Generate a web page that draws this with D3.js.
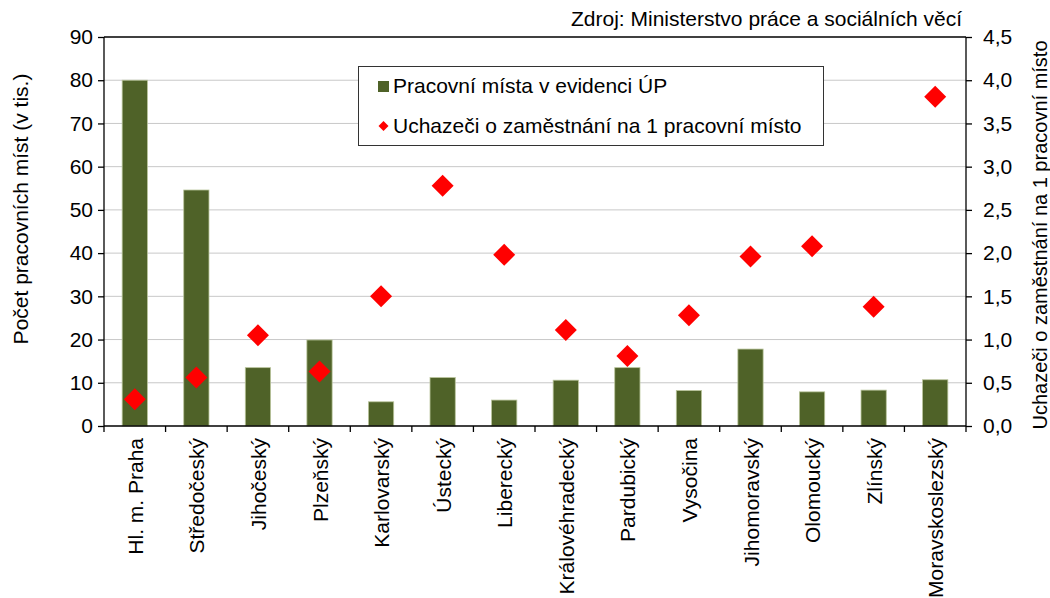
<!DOCTYPE html>
<html>
<head>
<meta charset="utf-8">
<script src="https://cdn.jsdelivr.net/npm/d3@7"></script>
<style>
  body { margin: 0; background: #fff; }
  text { font-family: "Liberation Sans", Arial, sans-serif; fill: #000; }
</style>
</head>
<body>
<svg id="chart" width="1050" height="598"></svg>
<script>
// kraje
const regions = ["Hl. m. Praha", "Středočeský", "Jihočeský", "Plzeňský", "Karlovarský", "Ústecký",
  "Liberecký", "Královéhradecký", "Pardubický", "Vysočina", "Jihomoravský", "Olomoucký", "Zlínský", "Moravskoslezský"];
// pracovni mista v evidenci UP (tis.)
const jobs = [80.0, 54.6, 13.5, 19.9, 5.6, 11.2, 6.0, 10.6, 13.5, 8.2, 17.8, 7.9, 8.3, 10.7];
// uchazeci na 1 pracovni misto
const ratio = [0.31, 0.56, 1.05, 0.63, 1.50, 2.78, 1.98, 1.11, 0.81, 1.28, 1.96, 2.08, 1.38, 3.81];

const leftTicks = d3.range(0, 91, 10);
const rightTicks = d3.range(0, 4.51, 0.5);

const svg = d3.select("#chart");
const m = { left: 104, right: 966, top: 37, bottom: 426 };
const fs = "21px";

const x = d3.scaleBand().domain(regions).range([m.left, m.right]).paddingInner(0).paddingOuter(0);
const yL = d3.scaleLinear().domain([0, 90]).range([m.bottom, m.top]);
const yR = d3.scaleLinear().domain([0, 4.5]).range([m.bottom, m.top]);

//gridlines
svg.append("g")
  .selectAll("line")
  .data(leftTicks.filter(d => d > 0 && d < 90))
  .enter().append("line")
  .attr("x1", m.left).attr("x2", m.right)
  .attr("y1", d => yL(d)).attr("y2", d => yL(d))
  .attr("stroke", "#c8c8c8").attr("stroke-width", 1);

// top border of plot
svg.append("line")
  .attr("x1", m.left).attr("x2", m.right)
  .attr("y1", m.top).attr("y2", m.top)
  .attr("stroke", "#000").attr("stroke-width", 1.3);

//bars
const barW = x.bandwidth() * 0.41;
svg.append("g")
  .selectAll("rect")
  .data(jobs)
  .enter().append("rect")
  .attr("x", (d, i) => x(regions[i]) + x.bandwidth() / 2 - barW / 2)
  .attr("y", d => yL(d))
  .attr("width", barW)
  .attr("height", d => yL(0) - yL(d))
  .attr("fill", "#4f6228")
  .attr("stroke", "#b8c49a")
  .attr("stroke-width", 0.8);

//axes
const axisL = svg.append("g")
  .attr("transform", `translate(${m.left},0)`)
  .call(d3.axisLeft(yL).tickValues(leftTicks).tickSize(6).tickPadding(5));
const axisR = svg.append("g")
  .attr("transform", `translate(${m.right},0)`)
  .call(d3.axisRight(yR).tickValues(rightTicks).tickSize(6).tickPadding(11)
    .tickFormat(d => d3.format(".1f")(d).replace(".", ",")));
const axisB = svg.append("g")
  .attr("transform", `translate(0,${m.bottom})`)
  .call(d3.axisBottom(x).tickSize(0).tickFormat(""));

[axisL, axisR, axisB].forEach(a => {
  a.selectAll("path.domain").attr("stroke", "#000").attr("stroke-width", 1.3);
  a.selectAll(".tick line").attr("stroke", "#000").attr("stroke-width", 1.3);
  a.selectAll(".tick text").style("font-size", fs).style("font-family", "'Liberation Sans', Arial, sans-serif").attr("fill", "#000");
});
axisL.select("path.domain").attr("d", `M0,${m.top}V${m.bottom}`);
axisR.select("path.domain").attr("d", `M0,${m.top}V${m.bottom}`);
axisB.select("path.domain").attr("d", `M${m.left},0H${m.right}`);

// category boundary ticks
axisB.append("g")
  .selectAll("line")
  .data(regions)
  .enter().append("line")
  .attr("x1", d => x(d)).attr("x2", d => x(d))
  .attr("y1", 0).attr("y2", 6)
  .attr("stroke", "#000").attr("stroke-width", 1.3);
axisB.append("line")
  .attr("x1", m.right).attr("x2", m.right).attr("y1", 0).attr("y2", 6)
  .attr("stroke", "#000").attr("stroke-width", 1.3);

// category labels
svg.append("g")
  .selectAll("text")
  .data(regions)
  .enter().append("text")
  .attr("transform", d => `translate(${x(d) + x.bandwidth() / 2 + 8},${m.bottom + 12}) rotate(-90)`)
  .attr("text-anchor", "end")
  .style("font-size", "21px")
  .text(d => d);

//diamonds
svg.append("g")
  .selectAll("path")
  .data(ratio)
  .enter().append("path")
  .attr("transform", (d, i) => `translate(${x(regions[i]) + x.bandwidth() / 2},${yR(d)})`)
  .attr("d", "M0,-11L11,0L0,11L-11,0Z")
  .attr("fill", "#ff0000");

// axis titles
svg.append("text")
  .attr("transform", `translate(28,209) rotate(-90)`)
  .attr("text-anchor", "middle")
  .style("font-size", fs)
  .text("Počet pracovních míst (v tis.)");
svg.append("text")
  .attr("transform", `translate(1047,235) rotate(-90)`)
  .attr("text-anchor", "middle")
  .style("font-size", "20px")
  .text("Uchazeči o zaměstnání na 1 pracovní místo");

// source
svg.append("text")
  .attr("x", 962).attr("y", 26)
  .attr("text-anchor", "end")
  .style("font-size", fs)
  .text("Zdroj: Ministerstvo práce a sociálních věcí");

//legend
const lg = svg.append("g");
lg.append("rect")
  .attr("x", 358.5).attr("y", 66.5).attr("width", 465).attr("height", 79)
  .attr("fill", "#fff").attr("stroke", "#333").attr("stroke-width", 1);
lg.append("rect")
  .attr("x", 378).attr("y", 81).attr("width", 11).attr("height", 11)
  .attr("fill", "#4f6228");
lg.append("text").attr("x", 393).attr("y", 93).style("font-size", fs)
  .text("Pracovní místa v evidenci ÚP");
lg.append("path")
  .attr("transform", "translate(383.5,126)")
  .attr("d", "M0,-5L5,0L0,5L-5,0Z")
  .attr("fill", "#ff0000");
lg.append("text").attr("x", 393).attr("y", 133).style("font-size", fs)
  .text("Uchazeči o zaměstnání na 1 pracovní místo");
</script>
</body>
</html>
